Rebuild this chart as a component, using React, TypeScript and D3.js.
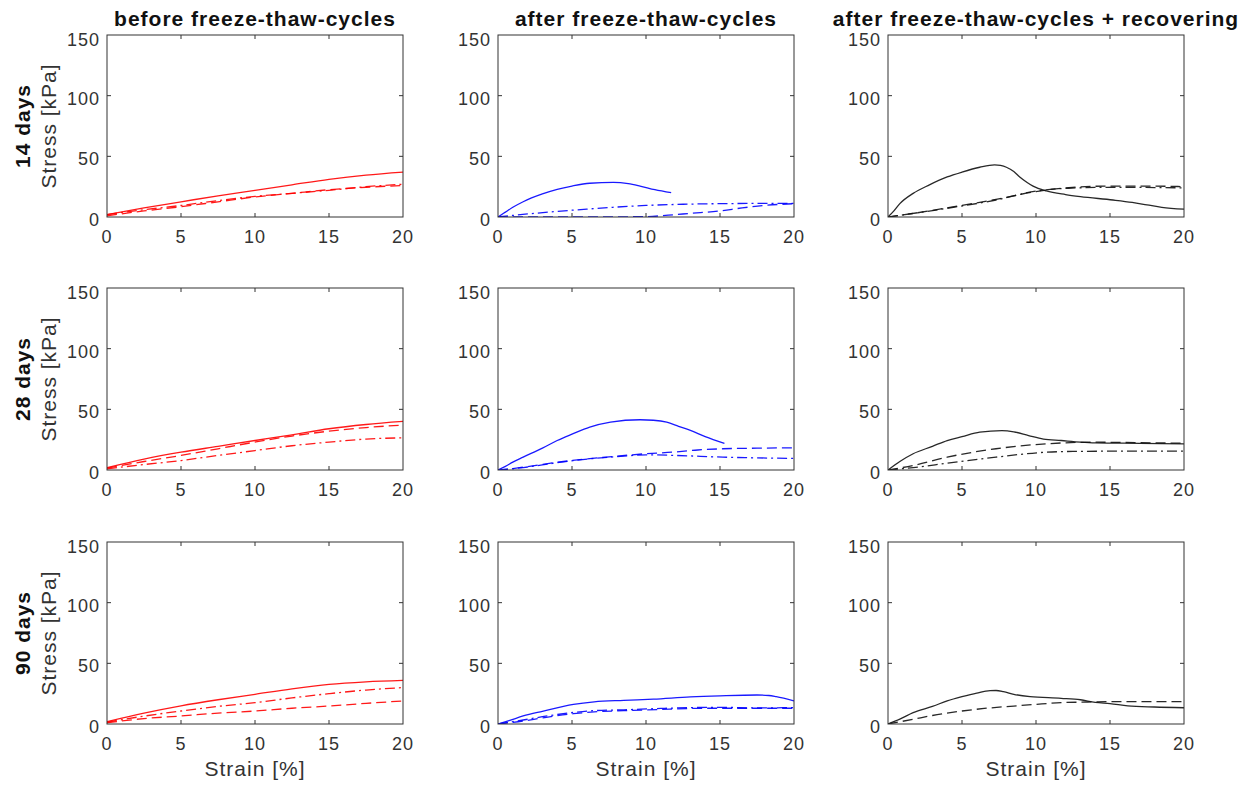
import React from "react";
import * as d3 from "d3";

type Pt = [number, number];

// Column titles, row labels, ticks
const columnTitles = [
  "before freeze-thaw-cycles",
  "after freeze-thaw-cycles",
  "after freeze-thaw-cycles + recovering",
];
const rowLabels = ["14 days", "28 days", "90 days"];
const xTicks = [0, 5, 10, 15, 20];
const yTicks = [0, 50, 100, 150];
const columnColors = ["#ff0000", "#0000ff", "#111111"];

// ---- 14 days ----
const before14Solid: Pt[] = [[0, 2], [2.5, 7.5], [5, 12.5], [7.5, 17.5], [10, 22], [12.5, 26.5], [15, 31], [17.5, 34.5], [20, 37]];
const before14Dashed: Pt[] = [[0, 1], [2.5, 5], [5, 8.5], [7.5, 12.5], [10, 16.5], [12.5, 19.5], [15, 22.5], [17.5, 24.5], [20, 26]];
const before14DashDot: Pt[] = [[0, 2], [2.5, 6], [5, 9.5], [7.5, 13.5], [10, 17], [12.5, 19.5], [15, 22], [17.5, 25], [20, 27]];

const after14Solid: Pt[] = [[0, 0], [0.5, 4], [1, 8], [1.7, 12.6], [3, 19], [4, 22.8], [5, 25.5], [6.2, 27.8], [7.8, 28.5], [8.8, 27.5], [9.6, 25.5], [10.6, 22.5], [11.7, 20]];
const after14Dashed: Pt[] = [[0, 0], [5, 0], [10, 0.3], [11.5, 1.5], [13, 3], [15, 5], [16.5, 7.5], [18, 9.5], [20, 11]];
const after14DashDot: Pt[] = [[0, 0], [2, 2.5], [4, 4.6], [6, 6.5], [8, 8.2], [10, 9.5], [12.5, 10.5], [15, 11], [17.5, 11.2], [20, 11.3]];

const recov14Solid: Pt[] = [[0, 0], [0.4, 5], [0.8, 11], [1.7, 19.5], [2.8, 26.5], [4, 33], [5, 37], [6.2, 41], [7.2, 43], [7.6, 42.5], [8, 41], [8.5, 37.5], [8.9, 33], [9.4, 28.5], [9.8, 25.5], [10.7, 21.5], [12, 18.5], [13, 16.8], [15.2, 14], [16.5, 12], [17.5, 10], [18.5, 8], [20, 6.5]];
const recov14Dashed: Pt[] = [[0, 0], [2, 3.5], [4, 7.5], [7.3, 14.5], [10, 21], [12, 24], [15, 25.5], [17.5, 25.5], [20, 25]];
const recov14DashDot: Pt[] = [[0, 0], [2, 3.5], [4, 7.2], [7.3, 14], [10, 21.4], [12.2, 23.7], [15.2, 24.5], [20, 24]];

// ---- 28 days ----
const before28Solid: Pt[] = [[0, 2], [2.5, 9], [5, 14.7], [7.5, 19.5], [10, 24.3], [12.5, 29], [15, 34], [17.5, 37.5], [20, 40]];
const before28Dashed: Pt[] = [[0, 1.5], [2.5, 7], [5, 12], [7.5, 17.5], [10, 23], [12.5, 28], [15, 32], [17.5, 35], [20, 37]];
const before28DashDot: Pt[] = [[0, 1], [2.5, 4.5], [5, 7.8], [7.5, 12], [10, 16], [12.5, 20], [15, 23], [17.5, 25.5], [20, 26.5]];

const after28Solid: Pt[] = [[0, 0], [0.5, 3], [1, 6.5], [1.7, 10.6], [3, 18], [4, 24.3], [5, 29.5], [6.2, 35.3], [7.6, 39.4], [9.6, 41.4], [10.5, 41], [11.4, 39.4], [12.2, 36], [13, 32.6], [14, 27.5], [15.3, 22]];
const after28Dashed: Pt[] = [[0, 0], [0.5, 0.5], [1.7, 2.3], [4, 6.4], [7.3, 10.6], [10, 13.4], [11.8, 14.7], [13.5, 16.5], [15.2, 17.5], [17.5, 18], [20, 18.3]];
const after28DashDot: Pt[] = [[0, 0], [1.7, 2], [4, 6], [6.2, 9.2], [8, 11], [10, 12.5], [12, 12], [15.2, 10.6], [17.5, 10], [20, 9.5]];

const recov28Solid: Pt[] = [[0, 0], [0.8, 7], [1.7, 13.4], [3, 19.5], [4, 24.3], [5, 27.5], [6.2, 31.2], [7.7, 32.5], [8.5, 31.5], [9.5, 28.4], [10.5, 25.5], [11.7, 24.3], [13, 23], [14, 22.4], [17, 22], [20, 21.6]];
const recov28Dashed: Pt[] = [[0, 0], [1.7, 3.7], [4, 10.6], [7.3, 17.5], [10.7, 21.6], [14, 22.9], [17, 22.5], [20, 22.1]];
const recov28DashDot: Pt[] = [[0, 0], [1.7, 2], [4, 5.6], [7.3, 10.6], [10.7, 14.7], [12.5, 15.3], [15.2, 15.5], [20, 15.5]];

// ---- 90 days ----
const before90Solid: Pt[] = [[0, 2], [2.5, 9], [5, 15], [7.5, 20], [10, 24.5], [12.5, 29], [15, 32.7], [17.5, 34.8], [20, 36]];
const before90Dashed: Pt[] = [[0, 1], [2.5, 4.5], [5, 6.6], [7.5, 9], [10, 10.7], [12.5, 13], [15, 14.8], [17.5, 17], [20, 19]];
const before90DashDot: Pt[] = [[0, 1.5], [2.5, 6.5], [5, 10.7], [7.5, 14.5], [10, 17.6], [12.5, 21.5], [15, 25], [17.5, 28], [20, 30]];

const after90Solid: Pt[] = [[0, 0], [0.8, 3], [1.7, 6.6], [3, 10.5], [5.1, 16.2], [6.5, 18.3], [8.5, 19.5], [10.5, 20.5], [13, 22.3], [15, 23.2], [17.5, 23.9], [18.3, 23.5], [18.8, 22.5], [20, 19]];
const after90Dashed: Pt[] = [[0, 0], [1.7, 2.5], [3, 5], [5.1, 8.5], [6.5, 10], [8.5, 11], [11, 12], [13, 12.8], [15, 13], [17.5, 13], [20, 13]];
const after90DashDot: Pt[] = [[0, 0], [1.7, 3.3], [3, 6], [5.1, 9.5], [6.5, 11], [8.5, 11.7], [11, 12.8], [13, 13.5], [15, 13.7], [17.5, 13.3], [20, 13.5]];

const recov90Solid: Pt[] = [[0, 0], [0.8, 4], [1.7, 9.3], [3, 14.5], [4, 19], [5, 22.5], [6, 25.5], [6.9, 27.5], [7.3, 27.6], [7.8, 26.7], [8.5, 24.5], [9.6, 22.5], [11.7, 21.2], [13, 20], [14, 17.8], [15, 16.8], [16.2, 15], [18, 14], [20, 13.4]];
const recov90Dashed: Pt[] = [[0, 0], [1.7, 3.9], [3, 7], [5, 10.7], [6.5, 12.8], [8.5, 14.8], [10, 16.2], [11.7, 17.6], [13, 18], [15.2, 18.4], [20, 18.4]];

type Curve = { data: Pt[]; style: "solid" | "dashed" | "dashdot" };

const panels: Curve[][][] = [
  [
    [{ data: before14Solid, style: "solid" }, { data: before14Dashed, style: "dashed" }, { data: before14DashDot, style: "dashdot" }],
    [{ data: after14Solid, style: "solid" }, { data: after14Dashed, style: "dashed" }, { data: after14DashDot, style: "dashdot" }],
    [{ data: recov14Solid, style: "solid" }, { data: recov14Dashed, style: "dashed" }, { data: recov14DashDot, style: "dashdot" }],
  ],
  [
    [{ data: before28Solid, style: "solid" }, { data: before28Dashed, style: "dashed" }, { data: before28DashDot, style: "dashdot" }],
    [{ data: after28Solid, style: "solid" }, { data: after28Dashed, style: "dashed" }, { data: after28DashDot, style: "dashdot" }],
    [{ data: recov28Solid, style: "solid" }, { data: recov28Dashed, style: "dashed" }, { data: recov28DashDot, style: "dashdot" }],
  ],
  [
    [{ data: before90Solid, style: "solid" }, { data: before90Dashed, style: "dashed" }, { data: before90DashDot, style: "dashdot" }],
    [{ data: after90Solid, style: "solid" }, { data: after90Dashed, style: "dashed" }, { data: after90DashDot, style: "dashdot" }],
    [{ data: recov90Solid, style: "solid" }, { data: recov90Dashed, style: "dashed" }],
  ],
];

const W = 1252;
const H = 787;
const colLeft = [107, 498, 888];
const rowTop = [35, 288, 542];
const PW = 296;
const PH = 182;
const FONT = "'Liberation Sans', Arial, Helvetica, sans-serif";
const AXIS_COLOR = "#333333";

const dashFor = (s: string) => (s === "dashed" ? "10,5" : s === "dashdot" ? "10,4,2,4" : undefined);

function Panel({ row, col }: { row: number; col: number }) {
  const x0 = colLeft[col];
  const y0 = rowTop[row];
  const x = d3.scaleLinear().domain([0, 20]).range([x0, x0 + PW]);
  const y = d3.scaleLinear().domain([0, 150]).range([y0 + PH, y0]);
  const line = d3
    .line<Pt>()
    .x((d) => x(d[0]))
    .y((d) => y(d[1]))
    .curve(d3.curveMonotoneX);
  const color = columnColors[col];
  const tl = 4;
  return (
    <g>
      <defs>
        <clipPath id={`clip-${row}-${col}`}>
          <rect x={x0} y={y0} width={PW} height={PH} />
        </clipPath>
      </defs>
      <g clipPath={`url(#clip-${row}-${col})`}>
        {panels[row][col].map((c, i) => (
          <path
            key={i}
            d={line(c.data) || ""}
            fill="none"
            stroke={color}
            strokeWidth={1.3}
            strokeDasharray={dashFor(c.style)}
            strokeOpacity={0.9}
          />
        ))}
      </g>
      <rect x={x0} y={y0} width={PW} height={PH} fill="none" stroke={AXIS_COLOR} strokeWidth={1} />
      {xTicks.slice(1, -1).map((t) => (
        <g key={"xt" + t}>
          <line x1={x(t)} x2={x(t)} y1={y0 + PH} y2={y0 + PH - tl} stroke={AXIS_COLOR} />
          <line x1={x(t)} x2={x(t)} y1={y0} y2={y0 + tl} stroke={AXIS_COLOR} />
        </g>
      ))}
      {yTicks.slice(1, -1).map((t) => (
        <g key={"yt" + t}>
          <line x1={x0} x2={x0 + tl} y1={y(t)} y2={y(t)} stroke={AXIS_COLOR} />
          <line x1={x0 + PW} x2={x0 + PW - tl} y1={y(t)} y2={y(t)} stroke={AXIS_COLOR} />
        </g>
      ))}
      {xTicks.map((t) => (
        <text
          key={"xl" + t}
          x={x(t)}
          y={y0 + PH + 26}
          textAnchor="middle"
          fontSize={18}
          letterSpacing={1}
          fill="#333"
          fontFamily={FONT}
        >
          {t}
        </text>
      ))}
      {yTicks.map((t) => (
        <text
          key={"yl" + t}
          x={x0 - 7}
          y={y(t) + (t === 150 ? 11 : 9)}
          textAnchor="end"
          fontSize={18}
          letterSpacing={1}
          fill="#333"
          fontFamily={FONT}
        >
          {t}
        </text>
      ))}
      {row === 2 && (
        <text
          x={x0 + PW / 2}
          y={y0 + PH + 52}
          textAnchor="middle"
          fontSize={21}
          letterSpacing={1}
          fill="#333"
          fontFamily={FONT}
        >
          Strain [%]
        </text>
      )}
      {row === 0 && (
        <text
          x={x0 + PW / 2}
          y={26}
          textAnchor="middle"
          fontSize={21}
          fontWeight="bold"
          letterSpacing={1}
          fill="#111"
          fontFamily={FONT}
        >
          {columnTitles[col]}
        </text>
      )}
      {col === 0 && (
        <>
          <text
            transform={`translate(56,${y0 + PH / 2}) rotate(-90)`}
            textAnchor="middle"
            fontSize={21}
            letterSpacing={1}
            fill="#333"
            fontFamily={FONT}
          >
            Stress [kPa]
          </text>
          <text
            transform={`translate(30,${y0 + PH / 2}) rotate(-90)`}
            textAnchor="middle"
            fontSize={21}
            fontWeight="bold"
            letterSpacing={1}
            fill="#111"
            fontFamily={FONT}
          >
            {rowLabels[row]}
          </text>
        </>
      )}
    </g>
  );
}

export default function App() {
  return (
    <svg
      width={W}
      height={H}
      viewBox={`0 0 ${W} ${H}`}
      style={{ position: "absolute", left: 0, top: 0, display: "block", background: "#fff" }}
    >
      <rect x={0} y={0} width={W} height={H} fill="#fff" />
      {[0, 1, 2].map((r) => [0, 1, 2].map((c) => <Panel key={`${r}-${c}`} row={r} col={c} />))}
    </svg>
  );
}
